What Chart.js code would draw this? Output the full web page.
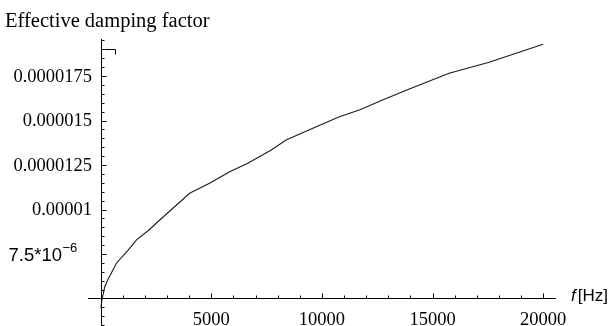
<!DOCTYPE html>
<html><head><meta charset="utf-8">
<script src="https://cdn.jsdelivr.net/npm/chart.js@4.4.1/dist/chart.umd.min.js"></script>
<style>html,body{margin:0;padding:0;background:#fff;overflow:hidden}#wrap{width:612px;height:326px}</style>
</head><body><div id="wrap"><canvas id="c" width="612" height="326"></canvas></div>
<script>
// ---- data ----
const titleText = 'Effective damping factor';
const xAxisName = 'f';
const xAxisUnit = '[Hz]';
const freqHz = [10, 60, 185, 300, 710, 1240, 1620, 2180, 2670, 4020, 4920, 5830, 6650, 7710, 8380, 9590, 10790, 11690, 12740, 13950, 15750, 17560, 20000];
const dampingMicro = [4.47, 4.97, 5.66, 6.0, 6.98, 7.72, 8.29, 8.85, 9.41, 10.91, 11.47, 12.12, 12.6, 13.34, 13.9, 14.56, 15.21, 15.59, 16.15, 16.77, 17.65, 18.27, 19.28];
const xMajorTicks = [5000, 10000, 15000, 20000];
const xMajorLabels = ['5000', '10000', '15000', '20000'];
const xMinorStep = 1000;
const yMajorTicks = [7.5e-6, 1e-5, 1.25e-5, 1.5e-5, 1.75e-5];
const yMajorLabels = ['7.5*10^-6', '0.00001', '0.0000125', '0.000015', '0.0000175'];
const yMinorStep = 0.5e-6;
const axesOrigin = {x: 0, y: 5e-6};
const xRange = {min: -574, max: 20583};
const yRange = {min: 3.455e-6, max: 19.579e-6};

const points = freqHz.map((f, i) => ({x: f, y: dampingMicro[i] * 1e-6}));

const SERIF = '"Liberation Serif", "Times New Roman", serif';
const SANS = '"Liberation Sans", Arial, sans-serif';

const axesPlugin = {
  id: 'mmaAxes',
  afterDraw(chart) {
    const ctx = chart.ctx;
    const xs = chart.scales.x, ys = chart.scales.y;
    const ca = chart.chartArea;
    const x0 = Math.round(xs.getPixelForValue(axesOrigin.x)) + 0.5;
    const y0 = Math.round(ys.getPixelForValue(axesOrigin.y)) + 0.5;
    ctx.save();
    ctx.strokeStyle = '#000';
    ctx.fillStyle = '#000';
    ctx.lineWidth = 1;
    // axis lines
    ctx.beginPath();
    ctx.moveTo(ca.left, y0); ctx.lineTo(ca.right, y0);
    ctx.moveTo(x0, ca.top); ctx.lineTo(x0, ca.bottom);
    ctx.stroke();
    // x ticks (upwards)
    ctx.beginPath();
    for (let k = 1; k * xMinorStep <= xRange.max; k++) {
      const v = k * xMinorStep;
      const px = Math.round(xs.getPixelForValue(v)) + 0.5;
      const len = xMajorTicks.includes(v) ? 5 : 3;
      ctx.moveTo(px, y0); ctx.lineTo(px, y0 - len);
    }
    // y ticks (to the right)
    const kMin = Math.ceil(yRange.min / yMinorStep), kMax = Math.floor(yRange.max / yMinorStep);
    for (let k = kMin; k <= kMax; k++) {
      const v = k * yMinorStep;
      const py = Math.round(ys.getPixelForValue(v)) + 0.5;
      const major = yMajorTicks.some(t => Math.abs(t - v) < 1e-9) || Math.abs(v - axesOrigin.y) < 1e-9;
      const len = major ? 5 : 3;
      ctx.moveTo(x0, py); ctx.lineTo(x0 + len, py);
    }
    ctx.stroke();
    // small hook mark near top of the vertical axis
    const hy = Math.round(ys.getPixelForValue(19e-6)) + 0.5;
    ctx.beginPath();
    ctx.moveTo(x0 + 3, hy); ctx.lineTo(x0 + 14, hy); ctx.lineTo(x0 + 14, hy + 5);
    ctx.stroke();
    // x labels
    ctx.font = '18.5px ' + SERIF;
    ctx.textAlign = 'center';
    ctx.textBaseline = 'alphabetic';
    xMajorTicks.forEach((v, i) => {
      ctx.fillText(xMajorLabels[i], xs.getPixelForValue(v), y0 + 26);
    });
    // y labels
    yMajorTicks.forEach((v, i) => {
      const py = ys.getPixelForValue(v);
      const lab = yMajorLabels[i];
      if (lab.includes('^')) {
        const [base, exp] = lab.split('^');
        ctx.textAlign = 'left';
        ctx.textBaseline = 'alphabetic';
        ctx.font = '18.5px ' + SANS;
        const bx = x0 - 93;
        ctx.fillText(base.replace('10', '10'), bx, py + 6.5);
        const w = ctx.measureText(base).width;
        ctx.font = '13px ' + SANS;
        ctx.fillText(exp.replace('-', '\u2212'), bx + w + 0.5, py - 2);
      } else {
        ctx.font = '18.5px ' + SERIF;
        ctx.textAlign = 'right';
        ctx.textBaseline = 'middle';
        ctx.fillText(lab, x0 - 9.5, py + 1);
      }
    });
    // axis name
    ctx.textAlign = 'left';
    ctx.textBaseline = 'alphabetic';
    ctx.font = 'italic 17px ' + SANS;
    const ax = ca.right + 15;
    ctx.fillText(xAxisName, ax, y0 + 2.5);
    const fw = ctx.measureText(xAxisName).width;
    ctx.font = '17px ' + SANS;
    ctx.fillText(xAxisUnit, ax + fw + 2, y0 + 2.5);
    // title
    ctx.font = '20.5px ' + SERIF;
    ctx.fillText(titleText, 5, 27);
    ctx.restore();
  }
};

new Chart(document.getElementById('c'), {
  type: 'line',
  data: {
    datasets: [{
      data: points,
      borderColor: '#1a1a1a',
      borderWidth: 1.1,
      pointRadius: 0,
      tension: 0,
      fill: false
    }]
  },
  options: {
    responsive: false,
    animation: false,
    devicePixelRatio: 1,
    layout: {padding: {left: 88, right: 56, top: 39, bottom: 0}},
    plugins: {legend: {display: false}, tooltip: {enabled: false}, title: {display: false}},
    scales: {
      x: {type: 'linear', min: xRange.min, max: xRange.max, display: false},
      y: {type: 'linear', min: yRange.min, max: yRange.max, display: false}
    }
  },
  plugins: [axesPlugin]
});
</script>
</body></html>
